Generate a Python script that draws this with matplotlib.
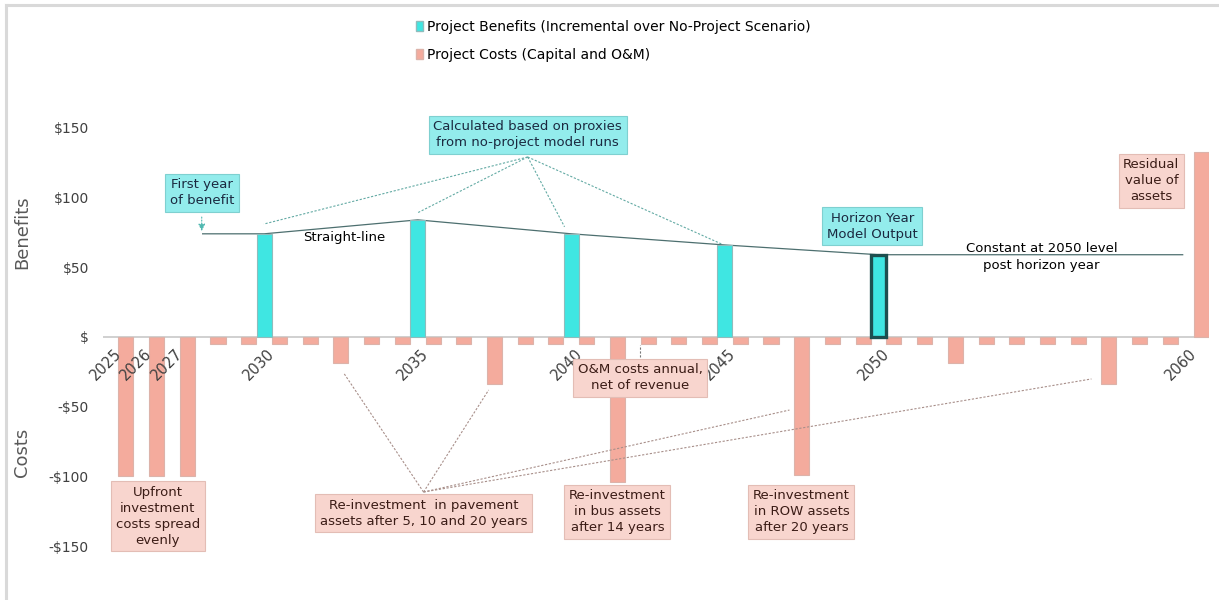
import numpy as np
import matplotlib.pyplot as plt
from matplotlib.lines import Line2D
from matplotlib.patches import Patch
from matplotlib.transforms import ScaledTranslation

# chart data (values in $)
years = list(range(2025, 2061))
benefit_years = [2030, 2035, 2040, 2045, 2050]
benefit_values = [74, 84, 74, 66, 59]
cost_values = [-100, -100, -100, -5, -5, -5, -5, -19, -5, -5,
               -5, -5, -34, -5, -5, -5, -104, -5, -5, -5,
               -5, -5, -99, -5, -5, -5, -5, -19, -5, -5,
               -5, -5, -34, -5, -5, 133]
xtick_years = [2025, 2026, 2027, 2030, 2035, 2040, 2045, 2050, 2060]
ytick_values = [150, 100, 50, 0, -50, -100, -150]
ytick_labels = ['\\$150', '\\$100', '\\$50', '\\$', '-\\$50', '-\\$100', '-\\$150']

BEN_COLOR = '#3fe6e2'
COST_COLOR = '#f4ab9d'
CYAN_BOX = '#93ecec'
SALMON_BOX = '#f8d5ce'
BAR_W = 0.49

plt.rcParams['font.family'] = ['DejaVu Sans']

fig = plt.figure(figsize=(12.19, 6.0), dpi=100)
ax = fig.add_axes([102.8 / 1219, 26 / 600, 1106 / 1219, 481 / 600])
ax.set_xlim(-0.5, 35.5)
ax.set_ylim(-170, 175)

x = np.arange(len(years))
bx = np.array([years.index(y) for y in benefit_years]) - 0.25

# bars
ax.bar(x + 0.25, cost_values, width=BAR_W, color=COST_COLOR,
       edgecolor='#dcb3aa', linewidth=0.8, zorder=3)
bars = ax.bar(bx, benefit_values, width=BAR_W, color=BEN_COLOR,
              edgecolor='#8fbcbc', linewidth=0.8, zorder=3)
bars[-1].set_edgecolor('#1d4f4f')
bars[-1].set_linewidth(2.4)

ax.axhline(0, color='#c8c8c8', lw=1.2, zorder=2)

# straight-line benefit profile
x_first = years.index(2028) - 0.25
x_last = 34.65
ax.plot([x_first] + list(bx) + [x_last],
        [benefit_values[0]] + benefit_values + [benefit_values[-1]],
        color='#4d6f6f', lw=0.9, zorder=2)

# axes styling: year labels hang just below the zero line
for s in ax.spines.values():
    s.set_visible(False)
ax.spines['bottom'].set_position(('data', 0))
ax.set_xticks([years.index(y) for y in xtick_years])
ax.set_xticklabels([str(y) for y in xtick_years], rotation=45, ha='right',
                   fontsize=10.5, color='#404040')
ax.set_yticks(ytick_values)
ax.set_yticklabels(ytick_labels, fontsize=10, color='#404040')
ax.tick_params(axis='both', length=0)
ax.tick_params(axis='y', pad=10)
ax.tick_params(axis='x', pad=3)
ax.xaxis.set_zorder(5)
shift = ScaledTranslation(0.06, -0.05, fig.dpi_scale_trans)
for lbl in ax.get_xticklabels():
    lbl.set_transform(lbl.get_transform() + shift)

fig.text(22 / 1219, 1 - 232 / 600, 'Benefits', rotation=90, ha='center',
         va='center', fontsize=13, color='#595959')
fig.text(22 / 1219, 1 - 452 / 600, 'Costs', rotation=90, ha='center',
         va='center', fontsize=13, color='#595959')

# legend
handles = [Patch(facecolor=BEN_COLOR, edgecolor='#8fbcbc'),
           Patch(facecolor=COST_COLOR, edgecolor='#dcb3aa')]
fig.legend(handles, ['Project Benefits (Incremental over No-Project Scenario)',
                     'Project Costs (Capital and O&M)'],
           loc='upper left', bbox_to_anchor=(410 / 1219, 1 - 14 / 600),
           frameon=False, fontsize=10, handlelength=0.55, handleheight=0.7,
           handletextpad=0.3, labelspacing=1.05, borderaxespad=0)

# annotation boxes
def note(xd, yd, txt, fc, tc, ec):
    ax.text(xd, yd, txt, ha='center', va='center', fontsize=9.5, color=tc,
            linespacing=1.3, zorder=6,
            bbox=dict(boxstyle='square,pad=0.35', fc=fc, ec=ec, lw=0.8))

navy = '#1b2940'
brown = '#3b1c16'
note(2.72, 103.3, 'First year\nof benefit', CYAN_BOX, navy, '#7fd0d0')
note(13.33, 145, 'Calculated based on proxies\nfrom no-project model runs',
     CYAN_BOX, navy, '#7fd0d0')
note(24.55, 79.6, 'Horizon Year\nModel Output', CYAN_BOX, navy, '#7fd0d0')
note(33.63, 112, 'Residual\nvalue of\nassets', SALMON_BOX, brown, '#e3bdb5')
note(17.0, -29.4, 'O&M costs annual,\nnet of revenue', SALMON_BOX, brown, '#e3bdb5')
note(1.29, -128.4, 'Upfront\ninvestment\ncosts spread\nevenly', SALMON_BOX, brown, '#e3bdb5')
note(9.94, -126.3, 'Re-investment  in pavement\nassets after 5, 10 and 20 years',
     SALMON_BOX, brown, '#e3bdb5')
note(16.25, -125.5, 'Re-investment\nin bus assets\nafter 14 years', SALMON_BOX, brown, '#e3bdb5')
note(22.24, -125.5, 'Re-investment\nin ROW assets\nafter 20 years', SALMON_BOX, brown, '#e3bdb5')

ax.text(7.37, 71, 'Straight-line', ha='center', va='center', fontsize=9.5,
        color='black', zorder=6)
ax.text(30.05, 57.4, 'Constant at 2050 level\npost horizon year', ha='center',
        va='center', fontsize=9.5, color='black', linespacing=1.45, zorder=6)

# connectors
dots = (0, (2, 1.5))
for tx, ty in [(4.74, 81), (9.74, 89), (14.53, 79), (19.64, 66.7)]:
    ax.plot([13.33, tx], [129.1, ty], color='#63aaa4', lw=0.8, ls=dots, zorder=4)
for tx, ty in [(7.34, -25.8), (12.06, -38), (21.85, -52.4), (31.68, -30.1)]:
    ax.plot([9.94, tx], [-111.2, ty], color='#a88f8a', lw=0.8, ls=dots, zorder=4)
ax.plot([17.0, 17.0], [-14.3, -5.7], color='#777777', lw=0.8, ls=dots, zorder=4)
ax.annotate('', xy=(2.72, 74), xytext=(2.72, 88),
            arrowprops=dict(arrowstyle='-|>', color='#4fb8b0', lw=0.8,
                            ls=':', mutation_scale=10), zorder=4)

# page frame of the source document
fig.add_artist(Line2D([6 / 1219, 1], [1 - 4.5 / 600, 1 - 4.5 / 600],
                      color='#d9d9d9', lw=2.2))
fig.add_artist(Line2D([6 / 1219, 6 / 1219], [0, 1 - 4.5 / 600],
                      color='#d9d9d9', lw=2.2))

fig.savefig('out.png', dpi=100, facecolor='white')
